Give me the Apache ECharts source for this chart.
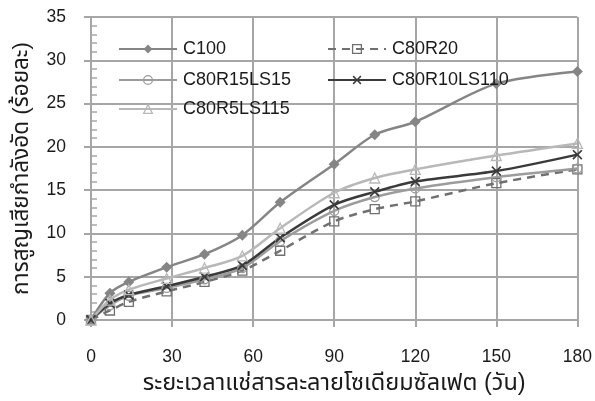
<!DOCTYPE html>
<html>
<head>
<meta charset="utf-8">
<script src="https://cdn.jsdelivr.net/npm/echarts@6/dist/echarts.min.js"></script>
<style>
  html, body { margin: 0; padding: 0; background: #fff; }
  #chart { width: 595px; height: 401px; }
</style>
</head>
<body>
<div id="chart"></div>
<script>
// Immersion time in sodium sulfate solution (days)
const days = [0, 7, 14, 28, 42, 56, 70, 90, 105, 120, 150, 180];

// Compressive strength loss (%) per mix
const c100        = [0, 3.1, 4.4, 6.1, 7.6, 9.8, 13.6, 18.0, 21.4, 22.9, 27.3, 28.7];
const c80r20      = [0, 1.1, 2.1, 3.3, 4.4, 5.7, 8.0, 11.4, 12.8, 13.7, 15.8, 17.4];
const c80r15ls15  = [0, 1.7, 2.8, 3.7, 4.7, 6.0, 9.1, 12.6, 14.2, 15.2, 16.5, 17.5];
const c80r10ls110 = [0, 1.9, 2.9, 3.9, 5.0, 6.3, 9.5, 13.3, 14.8, 16.0, 17.2, 19.1];
const c80r5ls115  = [0, 2.3, 3.5, 4.8, 6.0, 7.4, 10.6, 14.7, 16.4, 17.4, 19.0, 20.4];

const xTicks = [0, 30, 60, 90, 120, 150, 180];
const yTicks = [0, 5, 10, 15, 20, 25, 30, 35];

const FONT = '"Liberation Sans", Arial, "Noto Sans Thai", "Noto Sans", sans-serif';
const GRID_COLOR = '#a6a6a6';

function pairs(vals) { return days.map((d, i) => [d, vals[i]]); }

const crossPath = 'path://M0,1.2L1.2,0L5,3.8L8.8,0L10,1.2L6.2,5L10,8.8L8.8,10L5,6.2L1.2,10L0,8.8L3.8,5Z';

const seriesDefs = [
  { name: 'C100', data: c100, color: '#858585', symbol: 'diamond', size: 11, hollow: false, dash: 'solid' },
  { name: 'C80R20', data: c80r20, color: '#707070', symbol: 'rect', size: 9, hollow: true, dash: [8, 6] },
  { name: 'C80R15LS15', data: c80r15ls15, color: '#9c9c9c', symbol: 'circle', size: 9, hollow: true, dash: 'solid' },
  { name: 'C80R10LS110', data: c80r10ls110, color: '#3a3a3a', symbol: crossPath, size: 10, hollow: false, dash: 'solid' },
  { name: 'C80R5LS115', data: c80r5ls115, color: '#b8b8b8', symbol: 'triangle', size: 10, hollow: true, dash: 'solid' }
];

const series = seriesDefs.map(s => ({
  name: s.name,
  type: 'line',
  data: pairs(s.data),
  smooth: 0.3,
  symbol: s.symbol,
  symbolSize: s.size,
  lineStyle: { color: s.color, width: 2.5, type: s.dash },
  itemStyle: s.hollow
    ? { color: 'rgba(255,255,255,0)', borderColor: s.color, borderWidth: 1.3 }
    : { color: s.color, borderWidth: 0 },
  emphasis: { disabled: true },
  z: 3
}));

// Legend laid out in two columns, three rows
const legendSlots = [
  [118, 48], [327, 48],
  [118, 79], [327, 79],
  [118, 108]
];
const legends = seriesDefs.map((s, i) => ({
  data: [s.name],
  left: legendSlots[i][0],
  top: legendSlots[i][1] - 8,
  padding: 0,
  itemWidth: 58,
  itemHeight: 11,
  itemGap: 0,
  selectedMode: false,
  textStyle: { fontFamily: FONT, fontSize: 18, color: '#1a1a1a', padding: [0, 0, 0, 1], lineHeight: 18 },
  itemStyle: s.hollow ? { borderColor: s.color, borderWidth: 1.3 } : {}
}));

const chart = echarts.init(document.getElementById('chart'), null, { renderer: 'canvas' });
chart.setOption({
  animation: false,
  backgroundColor: '#fff',
  grid: { left: 91, right: 17, top: 17, bottom: 81, containLabel: false },
  legend: legends,
  xAxis: {
    type: 'value',
    min: xTicks[0],
    max: xTicks[xTicks.length - 1],
    interval: xTicks[1] - xTicks[0],
    name: 'ระยะเวลาแช่สารละลายโซเดียมซัลเฟต (วัน)',
    nameLocation: 'middle',
    nameGap: 52,
    nameTextStyle: { fontFamily: FONT, fontSize: 23.5, color: '#1a1a1a' },
    axisLine: { lineStyle: { color: GRID_COLOR, width: 2 } },
    axisTick: { show: true, length: 7, lineStyle: { color: GRID_COLOR, width: 2 } },
    axisLabel: { fontFamily: FONT, fontSize: 17.5, color: '#1a1a1a', margin: 28 },
    splitLine: { show: true, lineStyle: { color: GRID_COLOR, width: 2 } }
  },
  yAxis: [
    {
      type: 'value',
      min: yTicks[0],
      max: yTicks[yTicks.length - 1],
      interval: yTicks[1] - yTicks[0],
      name: 'การสูญเสียกำลังอัด (ร้อยละ)',
      nameLocation: 'middle',
      nameGap: 58,
      nameTextStyle: { fontFamily: FONT, fontSize: 22.5, color: '#1a1a1a' },
      axisLine: { show: true, lineStyle: { color: GRID_COLOR, width: 2 } },
      axisTick: { show: true, length: 7, lineStyle: { color: GRID_COLOR, width: 2 } },
      axisLabel: { fontFamily: FONT, fontSize: 17.5, color: '#1a1a1a', margin: 25 },
      splitLine: { show: true, lineStyle: { color: GRID_COLOR, width: 2 } }
    },
    {
      // overlay axis carrying the inward major and minor ticks
      type: 'value',
      position: 'left',
      min: yTicks[0],
      max: yTicks[yTicks.length - 1],
      interval: yTicks[1] - yTicks[0],
      axisLine: { show: false },
      axisTick: { show: true, inside: true, length: 8, lineStyle: { color: GRID_COLOR, width: 2 } },
      minorTick: { show: true, splitNumber: 5, length: 6, lineStyle: { color: GRID_COLOR, width: 1.5 } },
      axisLabel: { show: false },
      splitLine: { show: false }
    }
  ],
  series: series
});
</script>
</body>
</html>
